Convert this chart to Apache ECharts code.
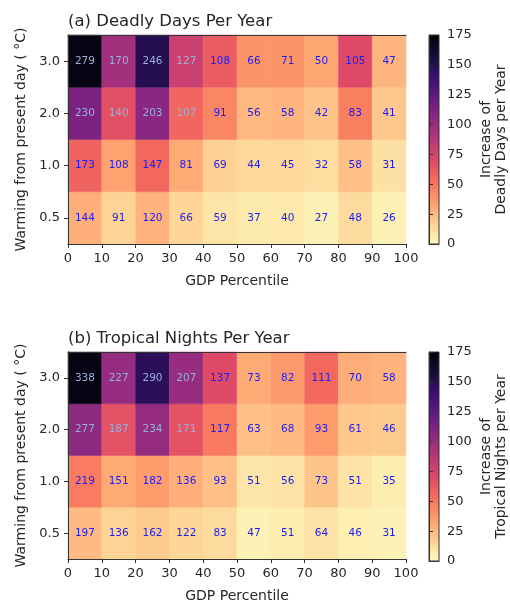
<!DOCTYPE html>
<html>
<head>
<meta charset="utf-8">
<script src="https://cdn.jsdelivr.net/npm/echarts@6/dist/echarts.min.js"></script>
<style>
  html, body { margin: 0; padding: 0; background: #fff; }
  #chart { width: 510px; height: 604px; }
</style>
</head>
<body>
<div id="chart"></div>
<script>
// left edge of each GDP percentile bin
const gdpBins = [0, 10, 20, 30, 40, 50, 60, 70, 80, 90]
// rows, bottom to top
const warmingLabels = ['0.5', '1.0', '2.0', '3.0']

// (a) printed numbers and the value shown by the cell colour
const deadlyText = [
  [144, 91, 120, 66, 59, 37, 40, 27, 48, 26],
  [173, 108, 147, 81, 69, 44, 45, 32, 58, 31],
  [230, 140, 203, 107, 91, 56, 58, 42, 83, 41],
  [279, 170, 246, 127, 108, 66, 71, 50, 105, 47]
]
const deadlyColor = [
  [29, 16, 28, 15, 9, 7, 7.5, 4, 13, 4],
  [58, 34, 56, 31, 17, 14, 14, 12, 23, 11],
  [112, 67, 106, 57, 44, 26, 27, 22, 47, 20],
  [170, 96, 150, 79, 61, 39, 39, 32, 70, 27]
]

// (b)
const tropicalText = [
  [197, 136, 162, 122, 83, 47, 51, 64, 46, 31],
  [219, 151, 182, 136, 93, 51, 56, 73, 51, 35],
  [277, 187, 234, 171, 117, 63, 68, 93, 61, 46],
  [338, 227, 290, 207, 137, 73, 82, 111, 70, 58]
]
const tropicalColor = [
  [25, 16, 19, 15, 13, 4, 6, 10, 5, 4],
  [48, 31, 36, 29, 23, 9, 10, 21, 10, 6],
  [105, 66, 101, 65, 49, 23, 25, 36, 20, 19],
  [170, 101, 147, 100, 70, 31, 37, 56, 30, 28]
]

// cells whose numbers are printed in the pale colour
const lightRows = [2, 3]
const lightCols = 4

const colorTicks = [0, 175]
const magmaR = ['#fcfdbf', '#fecf92', '#fe9f6d', '#f7705c', '#de4968', '#b73779',
  '#8c2981', '#641a80', '#3b0f70', '#140e36', '#000004']

const font = 'DejaVu Sans'
const ink = '#262626'
const spine = '#333'

function cells (text, color) {
  let out = []
  for (let r = 0; r < warmingLabels.length; r++) {
    for (let c = 0; c < gdpBins.length; c++) {
      let light = lightRows.indexOf(r) >= 0 && c < lightCols ? 1 : 0
      out.push([gdpBins[c], r, color[r][c], text[r][c], light])
    }
  }
  return out
}

function renderCell (params, api) {
  let x0 = api.value(0)
  let row = api.value(1)
  let p0 = api.coord([x0, row])
  let p1 = api.coord([x0 + 10, row])
  let h = api.size([0, 1])[1]
  let fill = api.visual('color')
  return {
    type: 'group',
    children: [
      {
        type: 'rect',
        shape: { x: p0[0], y: p0[1] - h / 2, width: p1[0] - p0[0], height: h },
        style: { fill: fill, stroke: fill, lineWidth: 0.5 }
      },
      {
        type: 'text',
        z2: 10,
        style: {
          text: String(api.value(3)),
          x: (p0[0] + p1[0]) / 2,
          y: p0[1],
          align: 'center',
          verticalAlign: 'middle',
          fill: api.value(4) ? '#9aaedb' : '#1c1cf5',
          fontSize: 10.5,
          fontFamily: font
        }
      }
    ]
  }
}

function renderBar (params, api) {
  let lo = api.coord([0, api.value(0)])
  let hi = api.coord([1, api.value(1)])
  let stops = magmaR.map((c, i) => ({ offset: i / (magmaR.length - 1), color: c }))
  return {
    type: 'rect',
    shape: { x: lo[0], y: hi[1], width: hi[0] - lo[0], height: lo[1] - hi[1] },
    style: {
      fill: new echarts.graphic.LinearGradient(0, 1, 0, 0, stops),
      stroke: spine,
      lineWidth: 1
    }
  }
}

const labelStyle = { color: ink, fontSize: 13, fontFamily: font }
const nameStyle = { color: ink, fontSize: 14, fontFamily: font }
const tick = { show: true, length: 4, inside: false, lineStyle: { color: spine, width: 1 } }
const line = { show: true, lineStyle: { color: spine, width: 1 } }

function gdpAxis (grid) {
  return {
    type: 'value', gridIndex: grid, min: 0, max: 100, interval: 10, z: 5,
    name: 'GDP Percentile', nameLocation: 'middle', nameGap: 30,
    nameTextStyle: nameStyle,
    axisLine: line, axisTick: tick,
    axisLabel: Object.assign({ margin: 8, showMinLabel: true, showMaxLabel: true }, labelStyle),
    splitLine: { show: false }
  }
}
function warmAxis (grid) {
  return {
    type: 'category', gridIndex: grid, data: warmingLabels, z: 5,
    name: 'Warming from present day ( °C)', nameLocation: 'middle', nameGap: 40,
    nameTextStyle: nameStyle,
    axisLine: line, axisTick: Object.assign({ alignWithLabel: true }, tick),
    axisLabel: Object.assign({ margin: 8 }, labelStyle),
    splitLine: { show: false }
  }
}
function frameX (grid, pos) {
  return {
    type: 'value', gridIndex: grid, min: 0, max: 1, position: pos, z: 5,
    axisLine: line, axisTick: { show: false }, axisLabel: { show: false }, splitLine: { show: false }
  }
}
function barAxis (grid, title) {
  return {
    type: 'value', gridIndex: grid, min: colorTicks[0], max: colorTicks[1], interval: 25,
    position: 'right', z: 5,
    name: title, nameLocation: 'middle', nameGap: 40, nameRotate: 90,
    nameTextStyle: Object.assign({ lineHeight: 15 }, nameStyle),
    axisLine: line, axisTick: tick,
    axisLabel: Object.assign({ margin: 8 }, labelStyle),
    splitLine: { show: false }
  }
}

let chart = echarts.init(document.getElementById('chart'))
chart.setOption({
  animation: false,
  backgroundColor: '#fff',
  title: [
    { text: '(a) Deadly Days Per Year', left: 63, top: 8,
      textStyle: { color: ink, fontSize: 16.5, fontWeight: 'normal', fontFamily: font } },
    { text: '(b) Tropical Nights Per Year', left: 63, top: 325,
      textStyle: { color: ink, fontSize: 16.5, fontWeight: 'normal', fontFamily: font } }
  ],
  grid: [
    { left: 68, top: 35, width: 338, height: 209 },
    { left: 68, top: 352, width: 338, height: 209 },
    { left: 429, top: 35, width: 11, height: 209 },
    { left: 429, top: 352, width: 11, height: 209 }
  ],
  xAxis: [
    gdpAxis(0), gdpAxis(1),
    frameX(2, 'bottom'), frameX(3, 'bottom'),
    frameX(0, 'top'), frameX(1, 'top')
  ],
  yAxis: [
    warmAxis(0), warmAxis(1),
    barAxis(2, 'Increase of\nDeadly Days per Year'),
    barAxis(3, 'Increase of\nTropical Nights per Year'),
    frameX(0, 'right'), frameX(1, 'right')
  ],
  visualMap: [{
    type: 'continuous', show: false, min: 0, max: 175, dimension: 2,
    seriesIndex: [0, 1], inRange: { color: magmaR }
  }],
  series: [
    { type: 'custom', xAxisIndex: 0, yAxisIndex: 0, renderItem: renderCell,
      encode: { x: 0, y: 1 }, data: cells(deadlyText, deadlyColor) },
    { type: 'custom', xAxisIndex: 1, yAxisIndex: 1, renderItem: renderCell,
      encode: { x: 0, y: 1 }, data: cells(tropicalText, tropicalColor) },
    { type: 'custom', xAxisIndex: 2, yAxisIndex: 2, renderItem: renderBar,
      encode: { y: [0, 1] }, data: [colorTicks] },
    { type: 'custom', xAxisIndex: 3, yAxisIndex: 3, renderItem: renderBar,
      encode: { y: [0, 1] }, data: [colorTicks] }
  ]
})
</script>
</body>
</html>
